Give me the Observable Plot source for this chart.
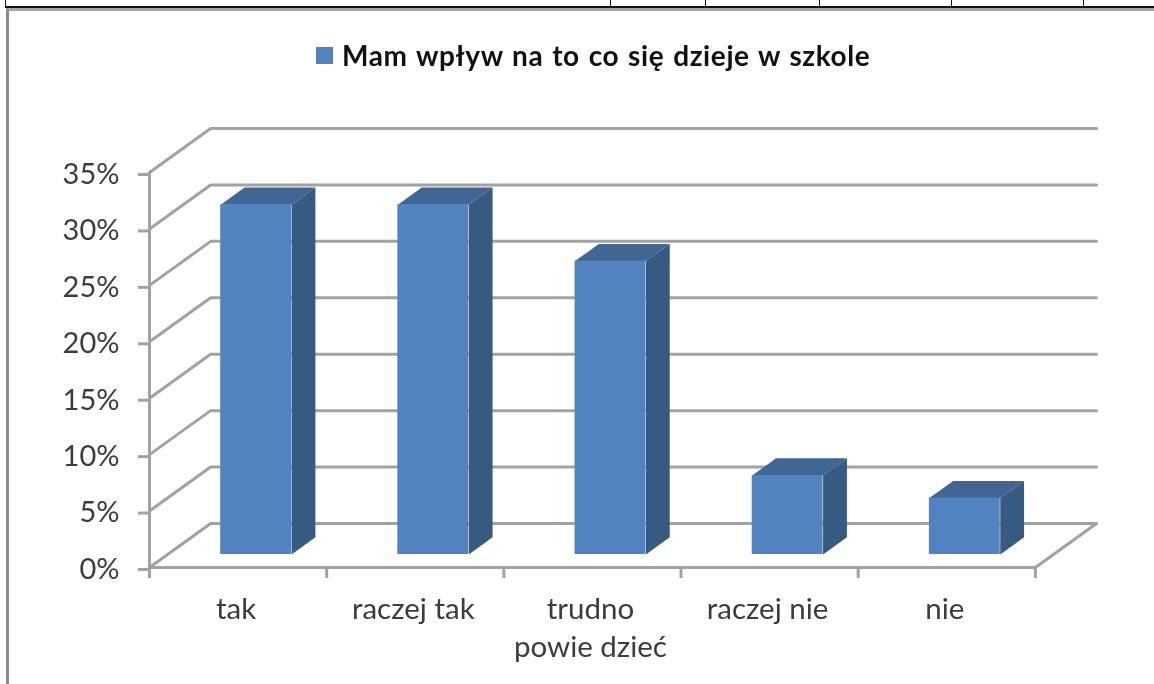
<!DOCTYPE html>
<html lang="pl">
<head>
<meta charset="utf-8">
<script src="https://cdn.jsdelivr.net/npm/d3@7"></script>
<script src="https://cdn.jsdelivr.net/npm/@observablehq/plot@0.6"></script>
<style>
html,body{margin:0;padding:0;background:#fff;overflow:hidden}
#page{position:relative;width:1154px;height:684px;overflow:hidden;font-family:Lato,sans-serif}
#tableEdge{position:absolute;left:5px;right:0;top:-2px;height:8px;border-left:1px solid #111;border-bottom:2px solid #111}
.sep{position:absolute;top:0;width:1px;height:6px;background:#111}
#frame{position:absolute;left:6px;top:8px;width:1148px;height:676px;border-left:3px solid #8c8c8c;border-top:3px solid #a6a6a6;box-sizing:border-box}
#legend{position:absolute;left:316px;top:40px;display:flex;align-items:center;height:30px;font-weight:700;font-size:28px;letter-spacing:.6px;word-spacing:1.5px;color:#111;white-space:nowrap;filter:blur(.4px)}
#legend i{display:block;width:17px;height:17px;background:#5283c0;margin-right:9px}
#chart{position:absolute;left:0;top:100px;filter:blur(.5px)}
#chart svg{display:block;overflow:visible}
</style>
</head>
<body>
<div id="page">
<div id="tableEdge"></div>
<div class="sep" style="left:610px"></div><div class="sep" style="left:705px"></div><div class="sep" style="left:819px"></div><div class="sep" style="left:951px"></div><div class="sep" style="left:1083px"></div>
<div id="frame"></div>
<div id="legend"><i></i><span>Mam wpływ na to co się dzieje w szkole</span></div>
<div id="chart"></div>
</div>
<script>
const categories = ["tak", "raczej tak", "trudno\npowie dzieć", "raczej nie", "nie"];
const values = [31, 31, 26, 7, 5];
const yTicks = [0, 5, 10, 15, 20, 25, 30, 35];
const xTicks = [0, 1, 2, 3, 4, 5];
const labelPos = [0.5, 1.5, 2.5, 3.5, 4.5];

// oblique projection: depth 0 = front, depth 1 = back wall, in data units
const depthX = 0.345, depthY = 3.9;
const px = (c, d) => c + d * depthX;
const py = (v, d) => v + d * depthY;
const barHalf = 0.2, dFront = 0.295, dBack = 0.685;

const grid = yTicks.flatMap(v => [
  {k: v, x: px(0, 0), y: py(v, 0)},
  {k: v, x: px(0, 1), y: py(v, 1)},
  {k: v, x: px(5, 1), y: py(v, 1)}
]);
const frameLines = [
  {k: "left", x: 0, y: 0}, {k: "left", x: 0, y: 35},
  {k: "bottom", x: 0, y: 0}, {k: "bottom", x: 5, y: 0}, {k: "bottom", x: px(5, 1), y: py(0, 1)}
];
const fronts = values.map((v, i) => ({
  x1: px(i + 0.5 - barHalf, dFront), x2: px(i + 0.5 + barHalf, dFront),
  y1: py(0, dFront), y2: py(v, dFront)
}));
const sides = values.flatMap((v, i) => {
  const r = i + 0.5 + barHalf;
  return [[dFront, 0], [dBack, 0], [dBack, v], [dFront, v]].map(([d, h]) => ({k: i, x: px(r, d), y: py(h, d)}));
});
const tops = values.flatMap((v, i) => {
  const l = i + 0.5 - barHalf, r = i + 0.5 + barHalf;
  return [[l, dFront], [r, dFront], [r, dBack], [l, dBack]].map(([c, d]) => ({k: i, x: px(c, d), y: py(v, d)}));
});

const gray = "#a2a2a2";
const plot = Plot.plot({
  width: 1154, height: 584,
  marginLeft: 149, marginRight: 58, marginTop: 28, marginBottom: 117,
  x: {type: "linear", domain: [0, 5 + depthX]},
  y: {type: "linear", domain: [0, 35 + depthY]},
  style: {background: "transparent", fontFamily: "Lato, sans-serif"},
  marks: [
    Plot.line(grid, {x: "x", y: "y", z: "k", stroke: gray, strokeWidth: 3, curve: "linear"}),
    Plot.line(frameLines, {x: "x", y: "y", z: "k", stroke: gray, strokeWidth: 3, curve: "linear"}),
    Plot.axisY(yTicks, {anchor: "left", tickSize: 11, tickPadding: 19, stroke: gray, strokeWidth: 3, fill: "#3c3c3c", fontSize: 29, dy: 2, tickFormat: d => d + "%", label: null}),
    Plot.axisX(xTicks, {anchor: "bottom", tickSize: 11, stroke: gray, strokeWidth: 3, tickFormat: () => "", label: null}),
    Plot.axisX(labelPos, {anchor: "bottom", tickSize: 0, tickPadding: 25, dx: -2, fill: "#3c3c3c", fontSize: 29.5, lineHeight: 1.27, tickFormat: d => categories[Math.floor(d)], label: null}),
    Plot.line(tops, {x: "x", y: "y", z: "k", fill: "#416693", stroke: "none"}),
    Plot.line(sides, {x: "x", y: "y", z: "k", fill: "#375a83", stroke: "none"}),
    Plot.rect(fronts, {x1: "x1", x2: "x2", y1: "y1", y2: "y2", fill: "#5283c0"})
  ]
});
document.getElementById("chart").append(plot);
</script>
</body>
</html>
